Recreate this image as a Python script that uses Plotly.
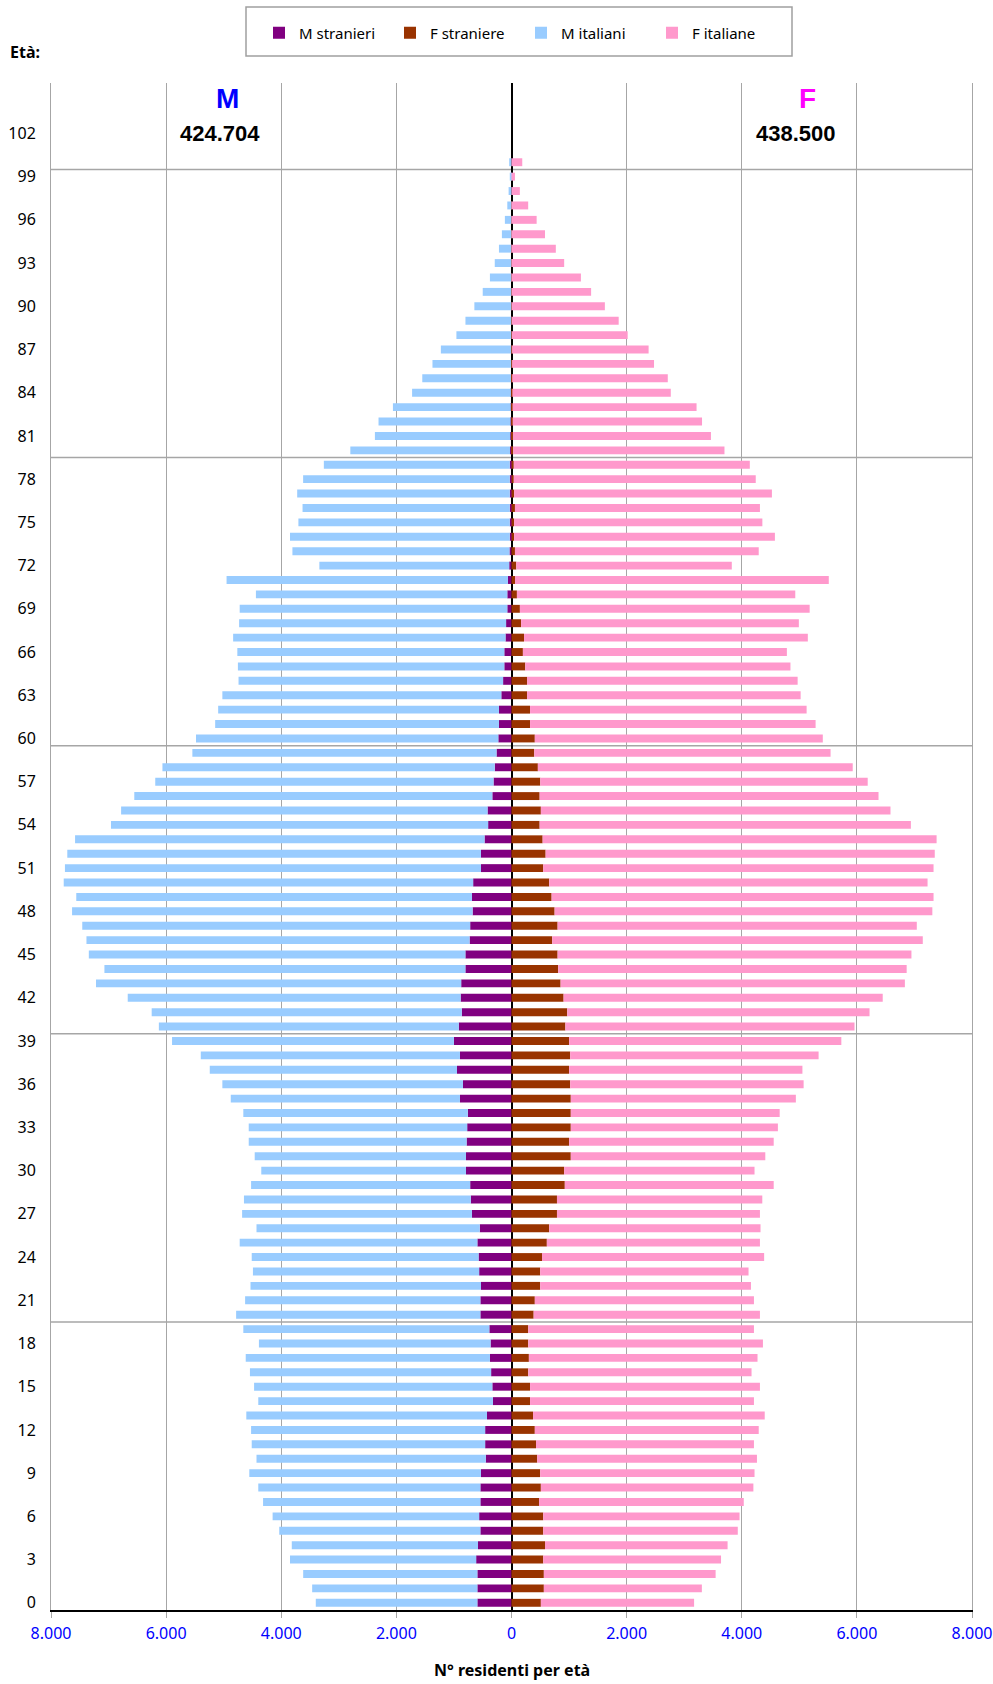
import plotly.graph_objects as go

# ---------------- data ----------------
ages = list(range(0, 101))

m_stranieri = [593, 593, 593, 614, 582, 541, 562, 541, 541, 530,
               447, 458, 458, 426, 322, 333, 354, 374, 364, 385,
               541, 541, 530, 562, 572, 593, 551, 686, 707, 718,
               791, 791, 780, 770, 759, 895, 843, 947, 895, 1000,
               916, 864, 884, 874, 801, 801, 728, 718, 676, 686,
               666, 530, 530, 468, 406, 416, 333, 312, 291, 260,
               229, 218, 218, 177, 146, 125, 125, 104, 94, 73,
               73, 62, 40, 35, 30, 30, 30, 30, 30, 30,
               25, 20, 15, 12, 10, 8, 6, 5, 4, 3,
               2, 2, 1, 1, 1, 0, 0, 0, 0, 0,
               0]

f_straniere = [510, 562, 562, 551, 582, 551, 551, 478, 510, 499,
               447, 426, 405, 374, 322, 322, 291, 302, 291, 291,
               385, 405, 499, 499, 530, 614, 655, 790, 790, 926,
               915, 1030, 1000, 1030, 1030, 1030, 1020, 1000, 1020, 1000,
               936, 968, 905, 853, 811, 801, 707, 801, 749, 697,
               655, 551, 593, 541, 489, 510, 489, 500, 458, 395,
               405, 322, 322, 270, 270, 239, 198, 218, 166, 146,
               94, 62, 83, 60, 45, 45, 60, 45, 40, 40,
               30, 25, 20, 18, 15, 12, 10, 10, 8, 6,
               5, 4, 3, 2, 2, 1, 1, 1, 0, 0,
               0]

m_italiani = [2807, 2870, 3026, 3234, 3235, 3494, 3588, 3775, 3858, 4025,
              3983, 4055, 4066, 4181, 4077, 4139, 4190, 4243, 4024, 4274,
              4243, 4087, 4004, 3930, 3941, 4129, 3879, 3994, 3941, 3806,
              3556, 3670, 3785, 3795, 3900, 3982, 4180, 4295, 4503, 4897,
              5210, 5387, 5783, 6344, 6271, 6542, 6656, 6739, 6958, 6875,
              7113, 7228, 7187, 7114, 6552, 6366, 6220, 5877, 5773, 5284,
              5252, 4930, 4878, 4846, 4596, 4628, 4638, 4732, 4638, 4649,
              4367, 4888, 3298, 3771, 3818, 3672, 3600, 3693, 3590, 3230,
              2775, 2353, 2295, 2048, 1717, 1542, 1367, 1222, 953, 797,
              643, 498, 374, 290, 217, 167, 115, 73, 50, 30,
              40]

f_italiane = [2662, 2745, 2984, 3089, 3172, 3380, 3411, 3557, 3692, 3723,
              3817, 3786, 3890, 4025, 3890, 3994, 3879, 3972, 4077, 3921,
              3931, 3807, 3661, 3619, 3859, 3702, 3671, 3526, 3567, 3629,
              3307, 3379, 3555, 3598, 3629, 3910, 4055, 4054, 4315, 4730,
              5023, 5252, 5544, 5981, 6054, 6147, 6438, 6240, 6562, 6635,
              6573, 6781, 6760, 6844, 6449, 6074, 5887, 5688, 5470, 5148,
              5003, 4961, 4805, 4753, 4701, 4607, 4586, 4930, 4826, 5034,
              4836, 5450, 3744, 4235, 4531, 4313, 4256, 4479, 4203, 4100,
              3670, 3440, 3290, 3197, 2752, 2703, 2466, 2372, 2010, 1856,
              1617, 1379, 1203, 913, 768, 581, 436, 289, 145, 60,
              187]

x_ticks = [-8000, -6000, -4000, -2000, 0, 2000, 4000, 6000, 8000]
x_ticktext = ["8.000", "6.000", "4.000", "2.000", "0", "2.000", "4.000", "6.000", "8.000"]
y_ticks = list(range(0, 103, 3))
age_grid = [19.5, 39.5, 59.5, 79.5, 99.5]

total_m_label = "424.704"
total_f_label = "438.500"

# ---------------- figure ----------------
W, H = 993, 1684
L, R, T, B = 51, 972, 83, 1610   # plot area in pixels


def px(xp):
    return (xp - L) / (R - L)


def py(yp):
    return (B - yp) / (B - T)


fig = go.Figure()
fig.add_trace(go.Bar(y=ages, x=[-v for v in m_stranieri], orientation="h",
                     name="M stranieri", marker=dict(color="#800080", line=dict(width=0))))
fig.add_trace(go.Bar(y=ages, x=f_straniere, orientation="h",
                     name="F straniere", marker=dict(color="#993300", line=dict(width=0))))
fig.add_trace(go.Bar(y=ages, x=[-v for v in m_italiani], orientation="h",
                     name="M italiani", marker=dict(color="#99CCFF", line=dict(width=0))))
fig.add_trace(go.Bar(y=ages, x=f_italiane, orientation="h",
                     name="F italiane", marker=dict(color="#FF99CC", line=dict(width=0))))

tick_font = "Noto Sans, DejaVu Sans, sans-serif"

fig.update_layout(
    width=W, height=H,
    margin=dict(l=L, r=W - R, t=T, b=H - B, pad=0, autoexpand=False),
    paper_bgcolor="white", plot_bgcolor="white",
    barmode="relative", bargap=0.45,
    hovermode=False,
    showlegend=True,
    legend=dict(orientation="h", x=px(259), xanchor="left", y=py(33), yanchor="middle",
                font=dict(family=tick_font, size=15, color="black"),
                bgcolor="rgba(0,0,0,0)", borderwidth=0,
                traceorder="normal", itemwidth=30, entrywidth=86, entrywidthmode="pixels"),
    xaxis=dict(range=[-8000, 8000], tickvals=x_ticks, ticktext=x_ticktext,
               automargin=False,
               showgrid=True, gridcolor="#A6A6A6", gridwidth=1,
               zeroline=True, zerolinecolor="black", zerolinewidth=1.5,
               showline=True, linecolor="black", linewidth=2,
               ticks="outside", ticklen=6, tickcolor="#A6A6A6",
               tickfont=dict(family=tick_font, size=16, color="#0000FF"),
               ticklabelstandoff=2, fixedrange=True),
    yaxis=dict(range=[-0.5, 105.5], tickvals=y_ticks, ticktext=[str(a) for a in y_ticks],
               automargin=False,
               showgrid=False, zeroline=False,
               showline=True, linecolor="#A6A6A6", linewidth=1, mirror=True,
               ticks="", tickfont=dict(family=tick_font, size=16, color="black"),
               ticklabelstandoff=11, fixedrange=True),
)

# horizontal grid lines every 20 ages
for g in age_grid:
    fig.add_shape(type="line", xref="paper", x0=0, x1=1, yref="y", y0=g, y1=g,
                  line=dict(color="#A6A6A6", width=1.5), layer="below")

# legend frame
fig.add_shape(type="rect", xref="paper", yref="paper",
              x0=px(246), x1=px(792), y0=py(56), y1=py(7),
              line=dict(color="#A0A0A0", width=1.5), fillcolor="white", layer="below")

ann_font_bold = "Liberation Sans, Arial, sans-serif"
fig.add_annotation(text="<b>Età:</b>", xref="paper", yref="paper", x=px(8), y=py(52),
                   xanchor="left", yanchor="middle", showarrow=False,
                   font=dict(family=tick_font, size=16, color="black"))
fig.add_annotation(text="<b>N° residenti per età</b>", xref="paper", yref="paper",
                   x=px(512), y=py(1670), xanchor="center", yanchor="middle", showarrow=False,
                   font=dict(family=tick_font, size=16, color="black"))
fig.add_annotation(text="<b>M</b>", xref="x", yref="y", x=-4930, y=104.4,
                   showarrow=False, font=dict(family=ann_font_bold, size=28, color="#0000FF"))
fig.add_annotation(text="<b>" + total_m_label + "</b>", xref="x", yref="y", x=-5060, y=102.0,
                   showarrow=False, font=dict(family=ann_font_bold, size=22, color="black"))
fig.add_annotation(text="<b>F</b>", xref="x", yref="y", x=5150, y=104.4,
                   showarrow=False, font=dict(family=ann_font_bold, size=28, color="#FF00FF"))
fig.add_annotation(text="<b>" + total_f_label + "</b>", xref="x", yref="y", x=4950, y=102.0,
                   showarrow=False, font=dict(family=ann_font_bold, size=22, color="black"))

fig.write_html("out.html", config={"displayModeBar": False},
               post_script="document.body.style.margin='0';"
                           "document.documentElement.style.overflow='hidden';")
